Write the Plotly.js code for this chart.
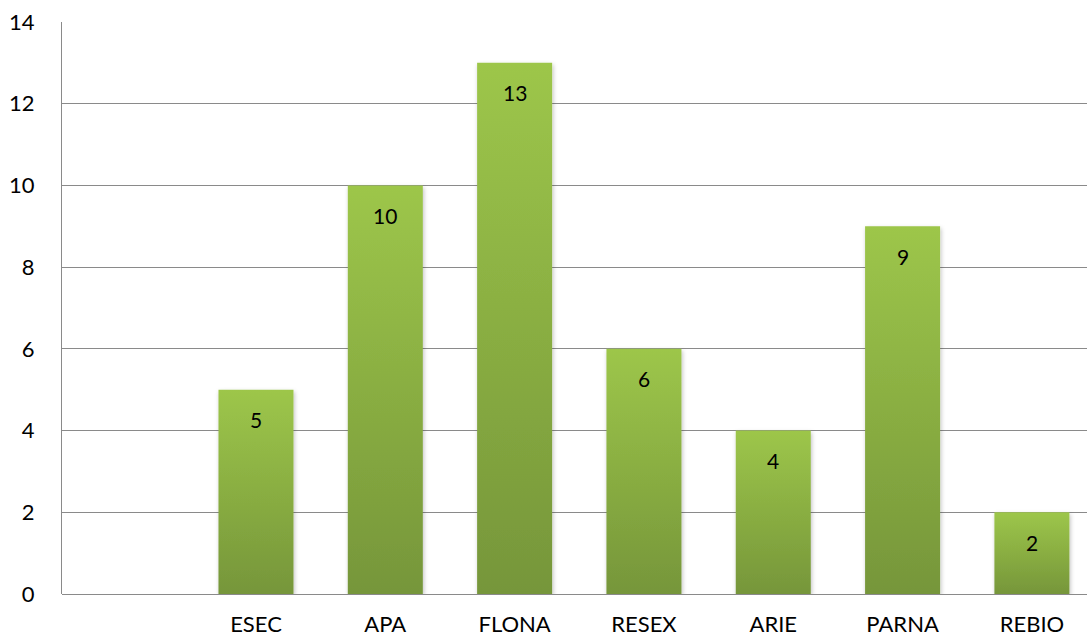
<!DOCTYPE html>
<html>
<head>
<meta charset="utf-8">
<script src="https://cdn.plot.ly/plotly-3.0.1.min.js"></script>
<style>html,body{margin:0;padding:0;background:#fff;}#chart{width:1087px;height:637px;}</style>
</head>
<body>
<div id="chart"></div>
<script>
const categories = [" ", "ESEC", "APA", "FLONA", "RESEX", "ARIE", "PARNA", "REBIO"];
const values = [null, 5, 10, 13, 6, 4, 9, 2];
const yTicks = [0, 2, 4, 6, 8, 10, 12, 14];

const FONT = "Lato, 'Open Sans', sans-serif";

const trace = {
  type: "bar",
  x: categories,
  y: values,
  marker: {color: "#8bb042", line: {width: 0}},
  hoverinfo: "none"
};

const annotations = [];
categories.forEach((c, i) => {
  if (values[i] !== null) {
    annotations.push({
      x: c, y: values[i], xref: "x", yref: "y",
      text: String(values[i]), showarrow: false,
      yshift: -30, font: {family: FONT, size: 21, color: "#000"}
    });
  }
});

const layout = {
  width: 1087, height: 637,
  margin: {l: 62, r: 0, t: 22, b: 43},
  paper_bgcolor: "#fff", plot_bgcolor: "#fff",
  showlegend: false,
  bargap: 0.42,
  font: {family: FONT, size: 22, color: "#000"},
  xaxis: {
    type: "category",
    categoryorder: "array", categoryarray: categories,
    range: [-0.5, 7.426],
    showgrid: false, zeroline: false,
    showline: false, ticks: "",
    ticklabelstandoff: 15,
    tickfont: {family: FONT, size: 22, color: "#000"}
  },
  yaxis: {
    range: [0, 14],
    tickvals: yTicks, ticktext: yTicks.map(String),
    showgrid: true, gridcolor: "#8a8a8a", gridwidth: 1,
    zeroline: true, zerolinecolor: "#8a8a8a", zerolinewidth: 1,
    showline: true, linecolor: "#8a8a8a", linewidth: 1,
    ticks: "", ticklabelstandoff: 22,
    tickfont: {family: FONT, size: 22, color: "#000"}
  },
  annotations: annotations
};

Plotly.newPlot("chart", [trace], layout, {displayModeBar: false, staticPlot: true}).then(gd => {
  const svg = gd.querySelector("svg.main-svg");
  const NS = "http://www.w3.org/2000/svg";
  let defs = svg.querySelector("defs");
  if (!defs) { defs = document.createElementNS(NS, "defs"); svg.insertBefore(defs, svg.firstChild); }
  const grad = document.createElementNS(NS, "linearGradient");
  grad.setAttribute("id", "barGrad");
  grad.setAttribute("x1", "0"); grad.setAttribute("y1", "0");
  grad.setAttribute("x2", "0"); grad.setAttribute("y2", "1");
  [["0", "#9dc64a"], ["1", "#76963a"]].forEach(([o, c]) => {
    const s = document.createElementNS(NS, "stop");
    s.setAttribute("offset", o); s.setAttribute("stop-color", c);
    grad.appendChild(s);
  });
  defs.appendChild(grad);
  const filt = document.createElementNS(NS, "filter");
  filt.setAttribute("id", "barShadow");
  filt.setAttribute("x", "-20%"); filt.setAttribute("y", "-10%");
  filt.setAttribute("width", "140%"); filt.setAttribute("height", "120%");
  const ds = document.createElementNS(NS, "feDropShadow");
  ds.setAttribute("dx", "1"); ds.setAttribute("dy", "2");
  ds.setAttribute("stdDeviation", "2"); ds.setAttribute("flood-color", "#000");
  ds.setAttribute("flood-opacity", "0.25");
  filt.appendChild(ds);
  defs.appendChild(filt);
  gd.querySelectorAll(".bars .point path").forEach(p => {
    p.style.setProperty("fill", "url(#barGrad)");
    p.setAttribute("filter", "url(#barShadow)");
  });
});
</script>
</body>
</html>
